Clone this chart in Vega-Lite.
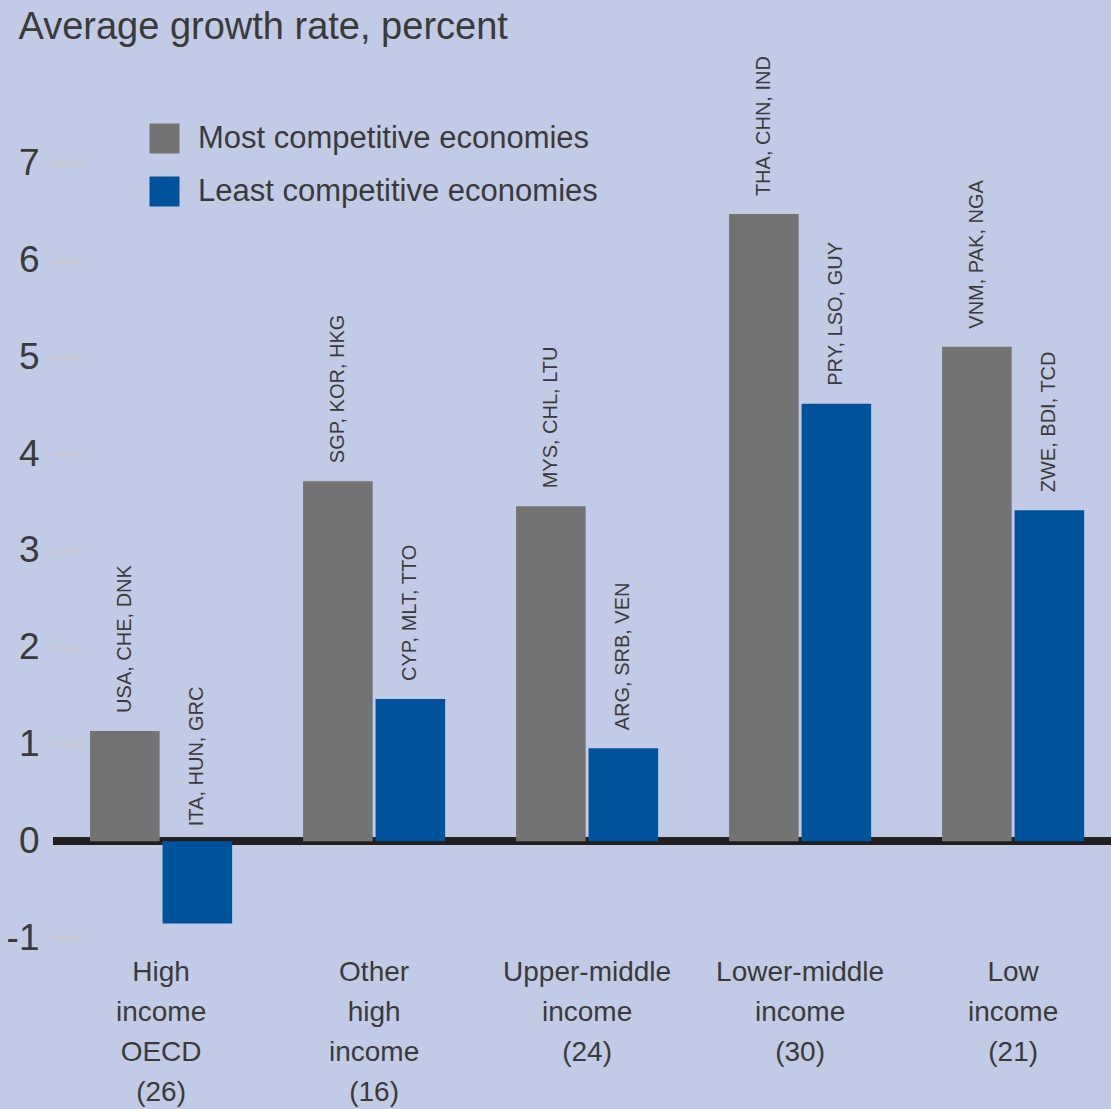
{
  "$schema": "https://vega.github.io/schema/vega-lite/v6.json",
  "autosize": "none",
  "width": 1058,
  "height": 871,
  "padding": {"left": 53, "top": 67, "right": 0, "bottom": 171},
  "background": "#c2cbe6",
  "config": {
    "view": {"stroke": null},
    "axis": {"grid": false}
  },
  "data": {
    "values": [
      {"group": "High|income|OECD|(26)", "series": "Most competitive economies", "value": 1.14, "countries": "USA, CHE, DNK"},
      {"group": "High|income|OECD|(26)", "series": "Least competitive economies", "value": -0.85, "countries": "ITA, HUN, GRC"},
      {"group": "Other|high|income|(16)", "series": "Most competitive economies", "value": 3.72, "countries": "SGP, KOR, HKG"},
      {"group": "Other|high|income|(16)", "series": "Least competitive economies", "value": 1.47, "countries": "CYP, MLT, TTO"},
      {"group": "Upper-middle|income|(24)", "series": "Most competitive economies", "value": 3.46, "countries": "MYS, CHL, LTU"},
      {"group": "Upper-middle|income|(24)", "series": "Least competitive economies", "value": 0.96, "countries": "ARG, SRB, VEN"},
      {"group": "Lower-middle|income|(30)", "series": "Most competitive economies", "value": 6.48, "countries": "THA, CHN, IND"},
      {"group": "Lower-middle|income|(30)", "series": "Least competitive economies", "value": 4.52, "countries": "PRY, LSO, GUY"},
      {"group": "Low|income|(21)", "series": "Most competitive economies", "value": 5.11, "countries": "VNM, PAK, NGA"},
      {"group": "Low|income|(21)", "series": "Least competitive economies", "value": 3.42, "countries": "ZWE, BDI, TCD"}
    ]
  },
  "encoding": {
    "x": {
      "field": "group",
      "type": "nominal",
      "sort": null,
      "scale": {"paddingInner": 0.333, "paddingOuter": 0.15, "align": 0.58},
      "axis": {
        "title": null,
        "domain": false,
        "ticks": false,
        "labelAngle": 0,
        "labelExpr": "split(datum.label, '|')",
        "labelFont": "Liberation Sans",
        "labelFontSize": 28,
        "labelLineHeight": 40,
        "labelColor": "#3a3a3a",
        "labelPadding": 20,
        "labelBaseline": "top",
        "labelLimit": 300
      }
    },
    "xOffset": {
      "field": "series",
      "type": "nominal",
      "sort": ["Most competitive economies", "Least competitive economies"],
      "scale": {"paddingInner": 0.04, "paddingOuter": 0}
    }
  },
  "layer": [
    {
      "mark": {"type": "rule", "color": "#231f20", "strokeWidth": 7},
      "encoding": {
        "y": {"datum": 0, "type": "quantitative"},
        "x": null,
        "xOffset": null
      }
    },
    {
      "mark": {"type": "bar"},
      "encoding": {
        "y": {
          "field": "value",
          "type": "quantitative",
          "scale": {"domain": [-1, 8], "nice": false, "zero": true},
          "axis": {
            "title": "Average growth rate, percent",
            "titleAngle": 0,
            "titleAlign": "left",
            "titleBaseline": "alphabetic",
            "titleX": -64,
            "titleY": -29,
            "titleFont": "Liberation Sans",
            "titleFontSize": 38,
            "titleFontWeight": "normal",
            "titleColor": "#3a3a3a",
            "domain": false,
            "values": [-1, 0, 1, 2, 3, 4, 5, 6, 7],
            "format": "d",
            "labelExpr": "datum.value < 0 ? '-' + abs(datum.value) : datum.label",
            "offset": -29,
            "tickSize": 29,
            "tickWidth": 3,
            "tickColor": "#cbcbcf",
            "labelPadding": 14,
            "labelFont": "Liberation Sans",
            "labelFontSize": 37,
            "labelColor": "#3a3a3a"
          }
        },
        "color": {
          "field": "series",
          "type": "nominal",
          "sort": ["Most competitive economies", "Least competitive economies"],
          "scale": {"range": ["#737373", "#00539b"]},
          "legend": {
            "title": null,
            "orient": "none",
            "legendX": 96,
            "legendY": 56,
            "padding": 0,
            "symbolType": "square",
            "symbolSize": 900,
            "symbolStrokeWidth": 0,
            "symbolOpacity": 1,
            "labelFont": "Liberation Sans",
            "labelFontSize": 31,
            "labelColor": "#3a3a3a",
            "labelOffset": 18,
            "rowPadding": 21,
            "labelLimit": 600
          }
        }
      }
    },
    {
      "transform": [{"filter": "datum.value >= 0"}],
      "mark": {
        "type": "text",
        "angle": 270,
        "align": "left",
        "baseline": "middle",
        "dx": 18,
        "font": "Liberation Sans",
        "fontSize": 20,
        "color": "#3a3a3a"
      },
      "encoding": {
        "y": {"field": "value", "type": "quantitative"},
        "text": {"field": "countries"}
      }
    },
    {
      "transform": [{"filter": "datum.value < 0"}],
      "mark": {
        "type": "text",
        "angle": 270,
        "align": "left",
        "baseline": "middle",
        "dx": 15,
        "font": "Liberation Sans",
        "fontSize": 20,
        "color": "#3a3a3a"
      },
      "encoding": {
        "y": {"datum": 0, "type": "quantitative"},
        "text": {"field": "countries"}
      }
    }
  ]
}
